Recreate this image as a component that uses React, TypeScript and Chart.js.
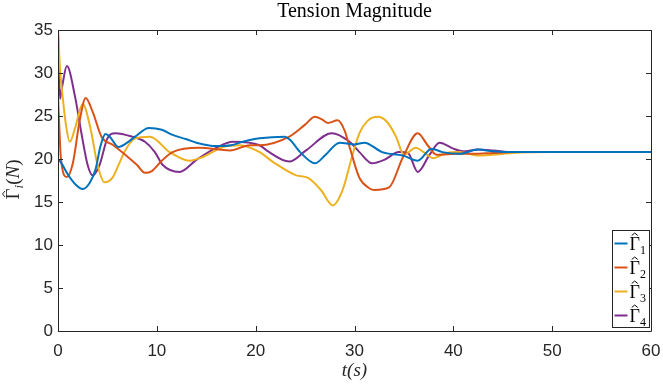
import React, { useEffect, useRef } from "react";
import { Chart, registerables } from "chart.js";

Chart.register(...registerables);

const chartTitle = "Tension Magnitude";
const xTitle = "t(s)";
const yTitle = "Γ̂ᵢ(N)";
const seriesLabels = ["Γ̂₁", "Γ̂₂", "Γ̂₃", "Γ̂₄"];
const seriesSubscripts = ["1", "2", "3", "4"];
const seriesColors = ["#0072BD", "#D95319", "#EDB120", "#7E2F8E"];

const gamma1T = [0, 0.3, 1, 1.8, 2.5, 3.2, 3.8, 4.3, 4.8, 5.3, 6.1, 7, 7.8, 9.2, 10.5, 11.6, 13, 14, 16, 17.5, 18.7, 20.4, 22.9, 23.5, 24.5, 26, 27, 28.5, 30, 31, 32.8, 34.9, 36.4, 37.8, 38.9, 40.6, 42.5, 44, 46, 50, 55, 60];
const gamma1V = [20, 19.6, 18.2, 17, 16.5, 17.2, 18.8, 21.5, 22.9, 22.5, 21.4, 21.9, 22.6, 23.6, 23.4, 22.8, 22.3, 21.9, 21.5, 21.6, 22, 22.4, 22.6, 22.2, 20.8, 19.5, 20.4, 21.9, 21.7, 21.9, 20.8, 20.4, 19.8, 21.2, 20.8, 20.6, 21.1, 20.9, 20.8, 20.8, 20.8, 20.8];

const gamma2T = [0, 0.3, 0.9, 1.5, 2.2, 2.8, 3.5, 4.4, 5.6, 6.8, 8, 8.8, 9.5, 10.5, 11.6, 14.3, 17.4, 19.4, 20.4, 23.4, 25, 26, 26.7, 27.3, 28.3, 29, 29.5, 30.5, 31.5, 32, 33.5, 34.9, 36.4, 37.4, 38.3, 40.6, 42, 44, 46, 50, 55, 60];
const gamma2V = [27.4, 20, 17.9, 19.5, 24.5, 27.1, 25.5, 22.6, 21.6, 20.5, 19.3, 18.4, 18.6, 19.8, 20.8, 21.3, 21, 21.6, 21.6, 22.6, 24, 24.9, 24.6, 24.2, 24.5, 23.3, 21.4, 17.8, 16.6, 16.4, 16.7, 20.2, 23, 21.6, 20.5, 20.6, 20.6, 20.7, 20.8, 20.8, 20.8, 20.8];

const gamma3T = [0, 0.2, 0.4, 0.8, 1.2, 1.7, 2.5, 3.3, 4, 4.7, 5.5, 6.2, 6.8, 7.8, 9.3, 11.3, 13.3, 14.6, 16.7, 18.4, 20.4, 21.7, 24.1, 25.3, 26.6, 27.8, 28.8, 29.8, 30.5, 31.3, 32.3, 33.3, 34.2, 35, 36.2, 37, 38, 39.3, 40.6, 42.5, 44, 46, 50, 55, 60];
const gamma3V = [35, 30.5, 28, 24, 22, 23.5, 26.4, 23.5, 19.3, 17.3, 17.8, 19.5, 21, 22.4, 22.6, 20.8, 19.8, 20.2, 21.4, 21.6, 20.8, 19.7, 18.1, 17.8, 16.4, 14.6, 16.4, 20.5, 23, 24.4, 24.9, 24.3, 22.6, 20.5, 21.3, 20.8, 20.1, 20.7, 20.8, 20.4, 20.5, 20.7, 20.8, 20.8, 20.8];

const gamma4T = [0, 0.2, 0.4, 0.9, 1.7, 2.4, 3, 3.5, 4.2, 5, 5.8, 7.5, 8.8, 9.8, 10.6, 12.3, 14, 16, 17.7, 20.4, 21.1, 23.4, 25.1, 27.7, 29.5, 30.5, 31.8, 33, 34.5, 35.4, 36.4, 37.6, 38.6, 40, 41, 42.5, 44, 46, 50, 55, 60];
const gamma4V = [35, 27, 28.3, 30.8, 27.4, 22.8, 19.3, 18.1, 19.3, 22.4, 23, 22.6, 22, 20.8, 19.3, 18.5, 19.9, 21.3, 22, 21.6, 21, 19.7, 21, 23, 22, 20.8, 19.5, 19.9, 20.8, 20.7, 18.5, 20.5, 21.9, 21.2, 20.9, 21.1, 21, 20.8, 20.8, 20.8, 20.8];

const xTicks = [0, 10, 20, 30, 40, 50, 60];
const yTicks = [0, 5, 10, 15, 20, 25, 30, 35];

const seriesT = [gamma1T, gamma2T, gamma3T, gamma4T];
const seriesV = [gamma1V, gamma2V, gamma3V, gamma4V];

const axisColor = "#262626";
const serif = "'Liberation Serif', 'DejaVu Serif', serif";

type Part = { text: string; font: string; dy: number; hat?: boolean };

// draws a run of text pieces (LaTeX-like) starting at x, baseline y; returns width
function drawParts(ctx: any, parts: Part[], x: number, y: number, measureOnly = false) {
  let cx = x;
  parts.forEach((p) => {
    ctx.font = p.font;
    const w = ctx.measureText(p.text).width;
    if (!measureOnly) {
      ctx.fillText(p.text, cx, y + p.dy);
      if (p.hat) {
        const mid = cx + w / 2;
        const top = y + p.dy - 14;
        ctx.save();
        ctx.lineWidth = 1;
        ctx.beginPath();
        ctx.moveTo(mid - 3, top);
        ctx.lineTo(mid, top - 2.5);
        ctx.lineTo(mid + 3, top);
        ctx.stroke();
        ctx.restore();
      }
    }
    cx += w;
  });
  return cx - x;
}

const boxPlugin = {
  id: "matlabBox",
  afterDraw(chart: any) {
    const { ctx, chartArea } = chart;
    const { left, right, top, bottom } = chartArea;
    const xs = chart.scales.x;
    const ys = chart.scales.y;
    ctx.save();
    ctx.strokeStyle = axisColor;
    ctx.lineWidth = 1;
    ctx.beginPath();
    ctx.rect(Math.round(left) + 0.5, Math.round(top) + 0.5, Math.round(right - left), Math.round(bottom - top));
    ctx.stroke();
    const tl = 5;
    ctx.beginPath();
    xTicks.forEach((v) => {
      const px = Math.round(xs.getPixelForValue(v)) + 0.5;
      ctx.moveTo(px, bottom);
      ctx.lineTo(px, bottom - tl);
      ctx.moveTo(px, top);
      ctx.lineTo(px, top + tl);
    });
    yTicks.forEach((v) => {
      const py = Math.round(ys.getPixelForValue(v)) + 0.5;
      ctx.moveTo(left, py);
      ctx.lineTo(left + tl, py);
      ctx.moveTo(right, py);
      ctx.lineTo(right - tl, py);
    });
    ctx.stroke();

    // y axis title (rotated), LaTeX-like: hat Gamma, subscript i, (N)
    ctx.fillStyle = axisColor;
    ctx.strokeStyle = axisColor;
    ctx.textBaseline = "alphabetic";
    ctx.textAlign = "left";
    const yParts: Part[] = [
      { text: "Γ", font: `19px ${serif}`, dy: 0, hat: true },
      { text: "i", font: `italic 13px ${serif}`, dy: 4 },
      { text: "(", font: `19px ${serif}`, dy: 0 },
      { text: "N", font: `italic 19px ${serif}`, dy: 0 },
      { text: ")", font: `19px ${serif}`, dy: 0 },
    ];
    ctx.save();
    ctx.translate(19, (top + bottom) / 2 - 1);
    ctx.rotate(-Math.PI / 2);
    const yw = drawParts(ctx, yParts, 0, 0, true);
    drawParts(ctx, yParts, -yw / 2, 0);
    ctx.restore();

    // legend box inside the axes, bottom right
    const boxW = 37;
    const boxH = 97;
    const bx = Math.round(right) - 2 - boxW + 0.5;
    const by = Math.round(bottom) - 4 - boxH + 0.5;
    ctx.fillStyle = "#ffffff";
    ctx.fillRect(bx, by, boxW, boxH);
    ctx.strokeStyle = axisColor;
    ctx.lineWidth = 1;
    ctx.strokeRect(bx, by, boxW, boxH);
    chart.data.datasets.forEach((ds: any, i: number) => {
      const cy = by + 13 + i * 24;
      ctx.strokeStyle = ds.borderColor;
      ctx.lineWidth = 2;
      ctx.beginPath();
      ctx.moveTo(bx + 2, cy);
      ctx.lineTo(bx + 15, cy);
      ctx.stroke();
      ctx.fillStyle = "#000000";
      ctx.strokeStyle = "#000000";
      drawParts(
        ctx,
        [
          { text: "Γ", font: `18px ${serif}`, dy: 0, hat: true },
          { text: seriesSubscripts[i], font: `12px ${serif}`, dy: 4 },
        ],
        bx + 17,
        cy + 6
      );
    });
    ctx.restore();
  },
};

export default function App() {
  const ref = useRef<HTMLCanvasElement | null>(null);
  useEffect(() => {
    document.body.style.margin = "0";
    const canvas = ref.current;
    if (!canvas) return;
    const datasets = seriesLabels.map((label, i) => ({
      label,
      data: seriesT[i].map((t, j) => ({ x: t, y: seriesV[i][j] })),
      borderColor: seriesColors[i],
      backgroundColor: seriesColors[i],
      borderWidth: 2,
      pointRadius: 0,
      cubicInterpolationMode: "monotone" as const,
      fill: false,
    }));
    const chart = new Chart(canvas, {
      type: "line",
      data: { datasets },
      options: {
        animation: false,
        responsive: false,
        devicePixelRatio: 1,
        layout: { padding: { top: 0, right: 12, left: 0, bottom: 0 } },
        plugins: {
          legend: { display: false },
          tooltip: { enabled: false },
          title: {
            display: true,
            text: chartTitle,
            fullSize: false,
            color: "#000000",
            font: { family: serif, size: 20, weight: "normal" },
            padding: { top: 0, bottom: 6 },
          },
        },
        scales: {
          x: {
            type: "linear",
            min: 0,
            max: 60,
            afterFit: (s: any) => {
              s.height = 54;
              s.paddingLeft = 0;
              s.paddingRight = 0;
            },
            afterBuildTicks: (s: any) => {
              s.ticks = xTicks.map((v) => ({ value: v }));
            },
            grid: { display: false, drawTicks: false },
            border: { display: false },
            ticks: {
              color: axisColor,
              font: { family: "'Liberation Sans', Arial, sans-serif", size: 17 },
              padding: 10,
              maxRotation: 0,
            },
            title: {
              display: true,
              text: xTitle,
              color: axisColor,
              font: { family: serif, size: 19, style: "italic" },
              padding: { top: 0, bottom: 3 },
            },
          },
          y: {
            type: "linear",
            min: 0,
            max: 35,
            afterFit: (s: any) => {
              s.width = 58;
              s.paddingTop = 0;
              s.paddingBottom = 0;
            },
            afterBuildTicks: (s: any) => {
              s.ticks = yTicks.map((v) => ({ value: v }));
            },
            grid: { display: false, drawTicks: false },
            border: { display: false },
            ticks: {
              color: axisColor,
              font: { family: "'Liberation Sans', Arial, sans-serif", size: 17 },
              padding: 5,
            },
            title: {
              display: false,
              text: yTitle,
            },
          },
        },
      },
      plugins: [boxPlugin],
    });
    return () => chart.destroy();
  }, []);
  return <canvas ref={ref} width={663} height={385} style={{ display: "block" }} />;
}
